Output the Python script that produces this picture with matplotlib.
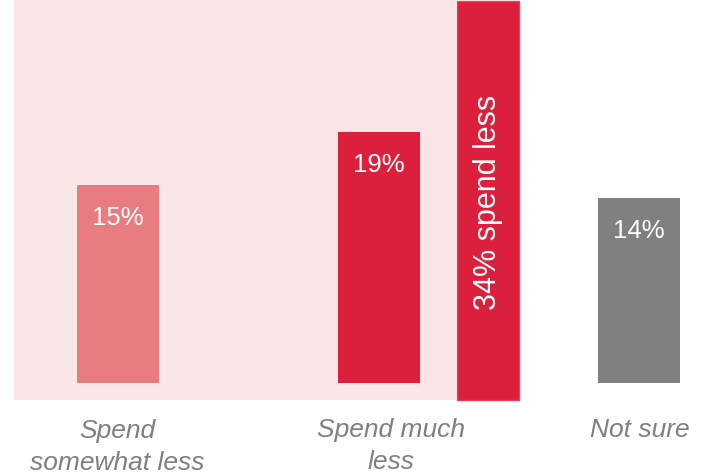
import matplotlib
matplotlib.use("Agg")
import matplotlib.pyplot as plt
from matplotlib.patches import Rectangle

categories = ["Spend\nsomewhat less", "Spend much\nless", "Not sure"]
values = [15, 19, 14]
value_labels = ["15%", "19%", "14%"]
total_label = "34% spend less"

bar_colors = ["#E97C80", "#DC1F3C", "#808080"]
pink_bg = "#FBE6E7"
red = "#DC1F3C"

plt.rcParams['font.family'] = ['Liberation Sans', 'DejaVu Sans']

W, H = 709, 476
fig = plt.figure(figsize=(W / 100, H / 100), dpi=100)
ax = fig.add_axes([0, 0, 1, 1])

# pixel mapping helpers for layout
px_per_cat = 260.5
x0_px = 118.0
px_per_unit = 13.2
y0_px = 383.0  # pixel row (from top) of value 0

ax.set_xlim(-x0_px / px_per_cat, (W - x0_px) / px_per_cat)
ax.set_ylim(-(H - y0_px) / px_per_unit, y0_px / px_per_unit)
ax.axis("off")

def px2y(p):
    return (y0_px - p) / px_per_unit

def px2x(p):
    return (p - x0_px) / px_per_cat

# pink background region behind "spend less" bars
ax.add_patch(Rectangle((px2x(14), px2y(400)), px2x(456) - px2x(14),
                       px2y(0) - px2y(400), facecolor=pink_bg, edgecolor="none", zorder=0))

# total bracket bar
ax.add_patch(Rectangle((px2x(456.5), px2y(399.5)), px2x(518.5) - px2x(456.5),
                       px2y(1) - px2y(399.5), facecolor=red, edgecolor="#E2415A",
                       linewidth=1.0, zorder=1))
ax.text(px2x(488), px2y(202.5), total_label, rotation=90, ha="center", va="center",
        color="white", fontsize=22, zorder=3)

xs = list(range(len(values)))
bw = 82 / px_per_cat
ax.bar(xs, values, width=bw, color=bar_colors, zorder=2)

for x, v, lab in zip(xs, values, value_labels):
    ax.text(x, v - 33 / px_per_unit, lab, ha="center", va="center",
            color="white", fontsize=18.5, zorder=3)

label_x_px = [117, 391, 640]
label_y_px = [447, 446, 430]
for lx, cat, ly in zip(label_x_px, categories, label_y_px):
    ax.text(px2x(lx), px2y(ly), cat, ha="center", va="center", color="#7F7F7F",
            fontsize=19, style="italic", linespacing=1.4, zorder=3)

fig.savefig("out.png", dpi=100)
